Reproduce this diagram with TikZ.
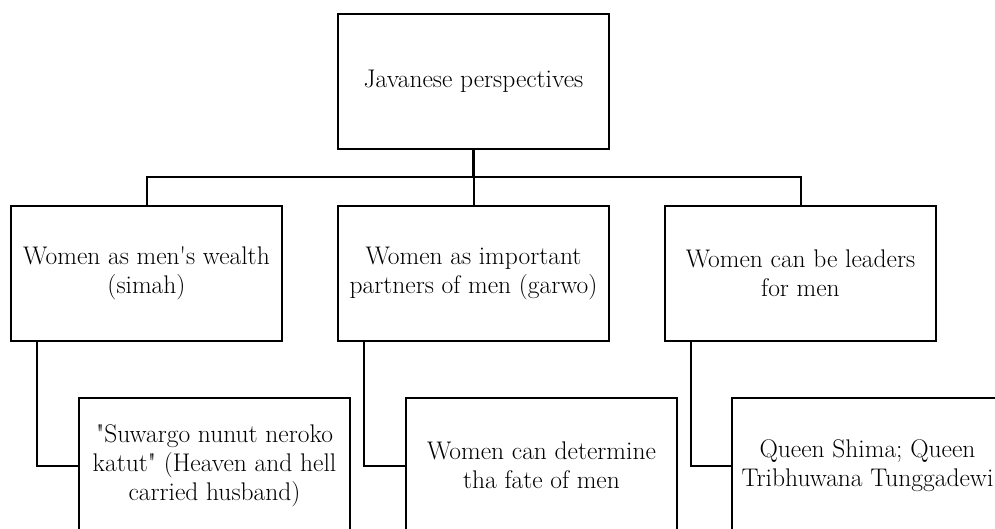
\documentclass[tikz,border=0pt]{standalone}
\usepackage{fontspec}
\usetikzlibrary{calc}
\begin{document}
\begin{tikzpicture}[x=1pt,y=-1pt,
  box/.style={draw=black, line width=2pt, minimum width=271pt, minimum height=135pt, inner sep=0pt, fill=white},
  txt/.style={align=center, font=\fontsize{25.5}{29}\selectfont, inner sep=0pt},
  conn/.style={draw=black, line width=2pt},
  stem/.style={draw=black, line width=3.2pt}]
\useasboundingbox (0,0) rectangle (995,528);
\clip (0,0) rectangle (995,528);
% top
\node[box] (top) at (473.5,81.5) {};
\node[txt] (topt) at (top.center) {Javanese perspectives};
% level 2
\node[box] (a) at (146.5,273) {};
\node[box] (b) at (473.5,273) {};
\node[box] (c) at (800.5,273) {};
\node[txt] (at) at (a.center) {Women as men\textquotesingle s wealth\\(simah)};
\node[txt] (bt) at (b.center) {Women as important\\partners of men (garwo)};
\node[txt] (ct) at (c.center) {Women can be leaders\\for men};
% level 3
\node[box] (a3) at (214.5,465.5) {};
\node[box] (b3) at (541.5,465.5) {};
\node[box] (c3) at (867.5,465.5) {};
\node[txt] (a3t) at (a3.center) {\textquotedbl Suwargo nunut neroko\\katut\textquotedbl{} (Heaven and hell\\carried husband)};
\node[txt] (b3t) at (b3.center) {Women can determine\\tha fate of men};
\node[txt] (c3t) at (c3.center) {Queen Shima; Queen\\Tribhuwana Tunggadewi};
% connectors
\coordinate (bus) at (473.5,177);
\draw[stem] (top.south) -- (top.south |- bus);
\draw[conn] (a.north) -- (a.north |- bus) -- (c.north |- bus) -- (c.north);
\draw[conn] (b.north |- bus) -- (b.north);
\draw[conn] ([xshift=27pt]a.south west) |- (a3.west);
\draw[conn] ([xshift=27pt]b.south west) |- (b3.west);
\draw[conn] ([xshift=27pt]c.south west) |- (c3.west);
\end{tikzpicture}
\end{document}
